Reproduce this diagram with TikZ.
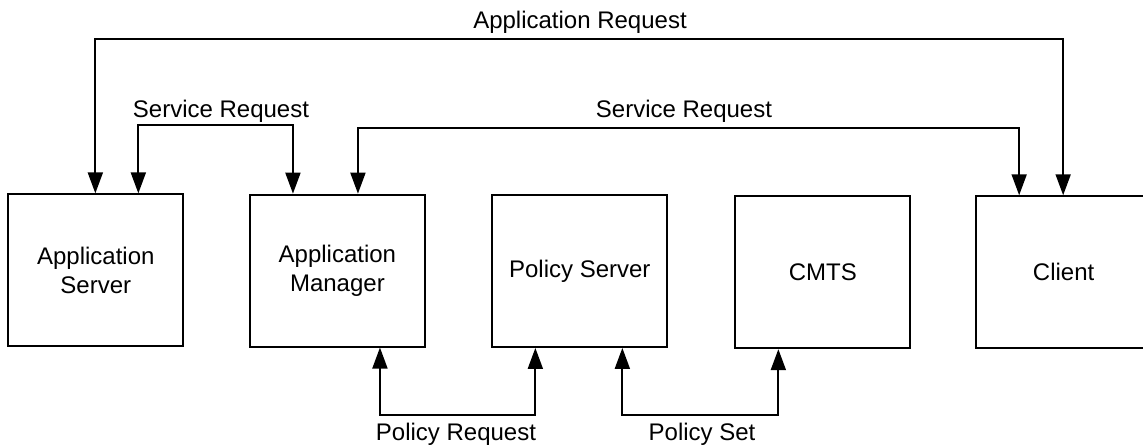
\documentclass[tikz,border=0pt]{standalone}
\usepackage{fontspec}
\setmainfont{Liberation Sans}
\usetikzlibrary{arrows.meta}
\begin{document}
\begin{tikzpicture}[x=1pt,y=-1pt,
  box/.style={draw,line width=1.9pt,minimum width=175pt,minimum height=152pt,inner sep=0pt,align=center,font=\fontsize{24}{29}\selectfont},
  lbl/.style={anchor=base,inner sep=0pt,font=\fontsize{24}{29}\selectfont},
  link/.style={line width=1.9pt,{Triangle[width=15pt,length=21pt]}-{Triangle[width=15pt,length=21pt]}}]
\clip (0,0) rectangle (1143,445);
% boxes
\node[box] (appsrv) at (95.8,270.3) {Application\\Server};
\node[box] (appmgr) at (337.4,270.6) {Application\\Manager};
\node[box] (polsrv) at (579.8,271) {Policy Server};
\node[box] (cmts)   at (822.8,272.2) {CMTS};
\node[box] (client) at (1063.6,272.2) {Client};
% connectors
\draw[link] ([xshift=88pt]client.north west) -- ++(0,-156) -| ([xshift=88pt]appsrv.north west);
\draw[link] ([xshift=131pt]appsrv.north west) -- ++(0,-68) -| ([xshift=44pt]appmgr.north west);
\draw[link] ([xshift=109pt]appmgr.north west) -- ++(0,-66) -| ([xshift=44pt]client.north west);
\draw[link] ([xshift=131pt]appmgr.south west) -- ++(0,67) -| ([xshift=44pt]polsrv.south west);
\draw[link] ([xshift=131pt]polsrv.south west) -- ++(0,67) -| ([xshift=44pt]cmts.south west);
% labels
\node[lbl] (lAR)  at (580,28.3) {Application Request};
\node[lbl] (lSR1) at (221,117) {Service Request};
\node[lbl] (lSR2) at (684,117) {Service Request};
\node[lbl] (lPR)  at (456,440) {Policy Request};
\node[lbl] (lPS)  at (702,440) {Policy Set};
\end{tikzpicture}
\end{document}
